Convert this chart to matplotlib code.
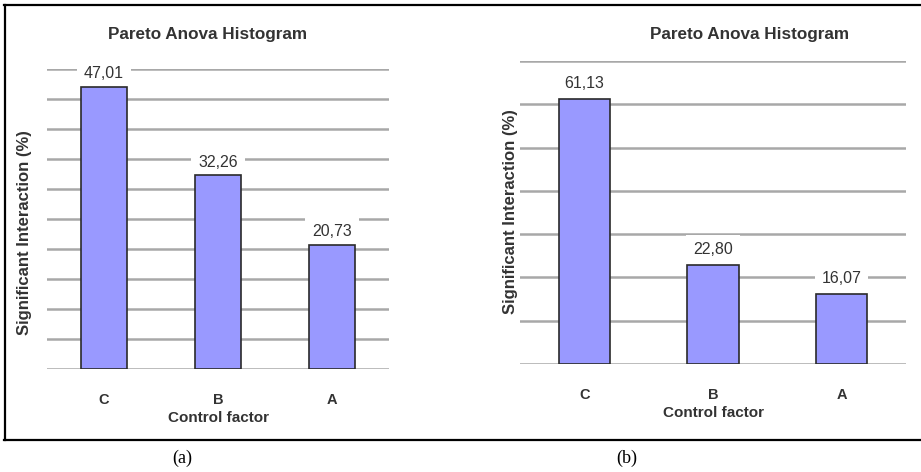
import matplotlib
matplotlib.use("Agg")
import matplotlib.pyplot as plt
from matplotlib.lines import Line2D

# data
factors = ["C", "B", "A"]
values_a = [47.01, 32.26, 20.73]
values_b = [61.13, 22.80, 16.07]
labels_a = ["47,01", "32,26", "20,73"]
labels_b = ["61,13", "22,80", "16,07"]

title = "Pareto Anova Histogram"
ylabel = "Significant Interaction (%)"
xlabel = "Control factor"

bar_color = "#9999ff"
grid_color = "#a8a8a8"
text_color = "#333333"
font = ["Liberation Sans", "DejaVu Sans"]

W, H = 921, 472
fig = plt.figure(figsize=(W / 100, H / 100), dpi=100)


def px_axes(x0, y_top, x1, y_bot):
    return fig.add_axes([x0 / W, 1 - y_bot / H, (x1 - x0) / W, (y_bot - y_top) / H])


def draw_panel(ax, values, labels, ymax, step, offset):
    ax.set_xlim(-0.5, 2.5)
    ax.set_ylim(0, ymax)
    ax.set_yticks(range(0, ymax + 1, step))
    ax.yaxis.grid(True, color=grid_color, linewidth=1.8)
    ax.set_axisbelow(True)
    ax.tick_params(axis="y", left=False, labelleft=False)
    ax.tick_params(axis="x", bottom=False, pad=14)
    for s in ax.spines.values():
        s.set_visible(False)
    x = range(len(factors))
    bars = ax.bar(x, values, width=0.4, color=bar_color, edgecolor="#2a2a2a",
                  linewidth=1.2, zorder=3)
    ax.set_xticks(list(x))
    ax.set_xticklabels(factors, fontsize=10.5, fontweight="bold", color=text_color,
                       family=font)
    # value labels sit on a white box that breaks the grid line, kept under the bars
    for b, lab in zip(bars, labels):
        ax.annotate(lab, (b.get_x() + b.get_width() / 2, b.get_height()),
                    xytext=(0, offset), textcoords="offset points",
                    ha="center", va="bottom", fontsize=11.5, color=text_color,
                    family=font, zorder=2.5,
                    bbox=dict(facecolor="white", edgecolor="none", pad=5))
    ax.set_xlabel(xlabel, fontsize=11, fontweight="bold", color=text_color,
                  family=font, labelpad=3)


ax_a = px_axes(47, 69, 389, 369)
draw_panel(ax_a, values_a, labels_a, 50, 5, 4)
ax_b = px_axes(520, 61, 906, 364)
draw_panel(ax_b, values_b, labels_b, 70, 10, 6)

# titles and y labels placed in figure pixels
fig.text(208 / W, 1 - 35 / H, title, ha="center", va="center", fontsize=12.3,
         fontweight="bold", color=text_color, family=font)
fig.text(750 / W, 1 - 35 / H, title, ha="center", va="center", fontsize=12.3,
         fontweight="bold", color=text_color, family=font)
fig.text(25 / W, 1 - 233 / H, ylabel, rotation=90, ha="center", va="center",
         fontsize=12, fontweight="bold", color=text_color, family=font)
fig.text(510 / W, 1 - 212 / H, ylabel, rotation=90, ha="center", va="center",
         fontsize=12, fontweight="bold", color=text_color, family=font)

# frame around the panels: top, left and bottom only
fig.add_artist(Line2D([4 / W, 1], [1 - 5 / H, 1 - 5 / H], color="black", lw=1.6))
fig.add_artist(Line2D([5 / W, 5 / W], [1 - 5 / H, 1 - 440 / H], color="black", lw=1.6))
fig.add_artist(Line2D([4 / W, 1], [1 - 440 / H, 1 - 440 / H], color="black", lw=1.6))

fig.text(182 / W, 1 - 458 / H, "(a)", ha="center", va="center", fontsize=13,
         family=["Liberation Serif", "DejaVu Serif"], color="black")
fig.text(627 / W, 1 - 458 / H, "(b)", ha="center", va="center", fontsize=13,
         family=["Liberation Serif", "DejaVu Serif"], color="black")

fig.savefig("out.png", dpi=100)
